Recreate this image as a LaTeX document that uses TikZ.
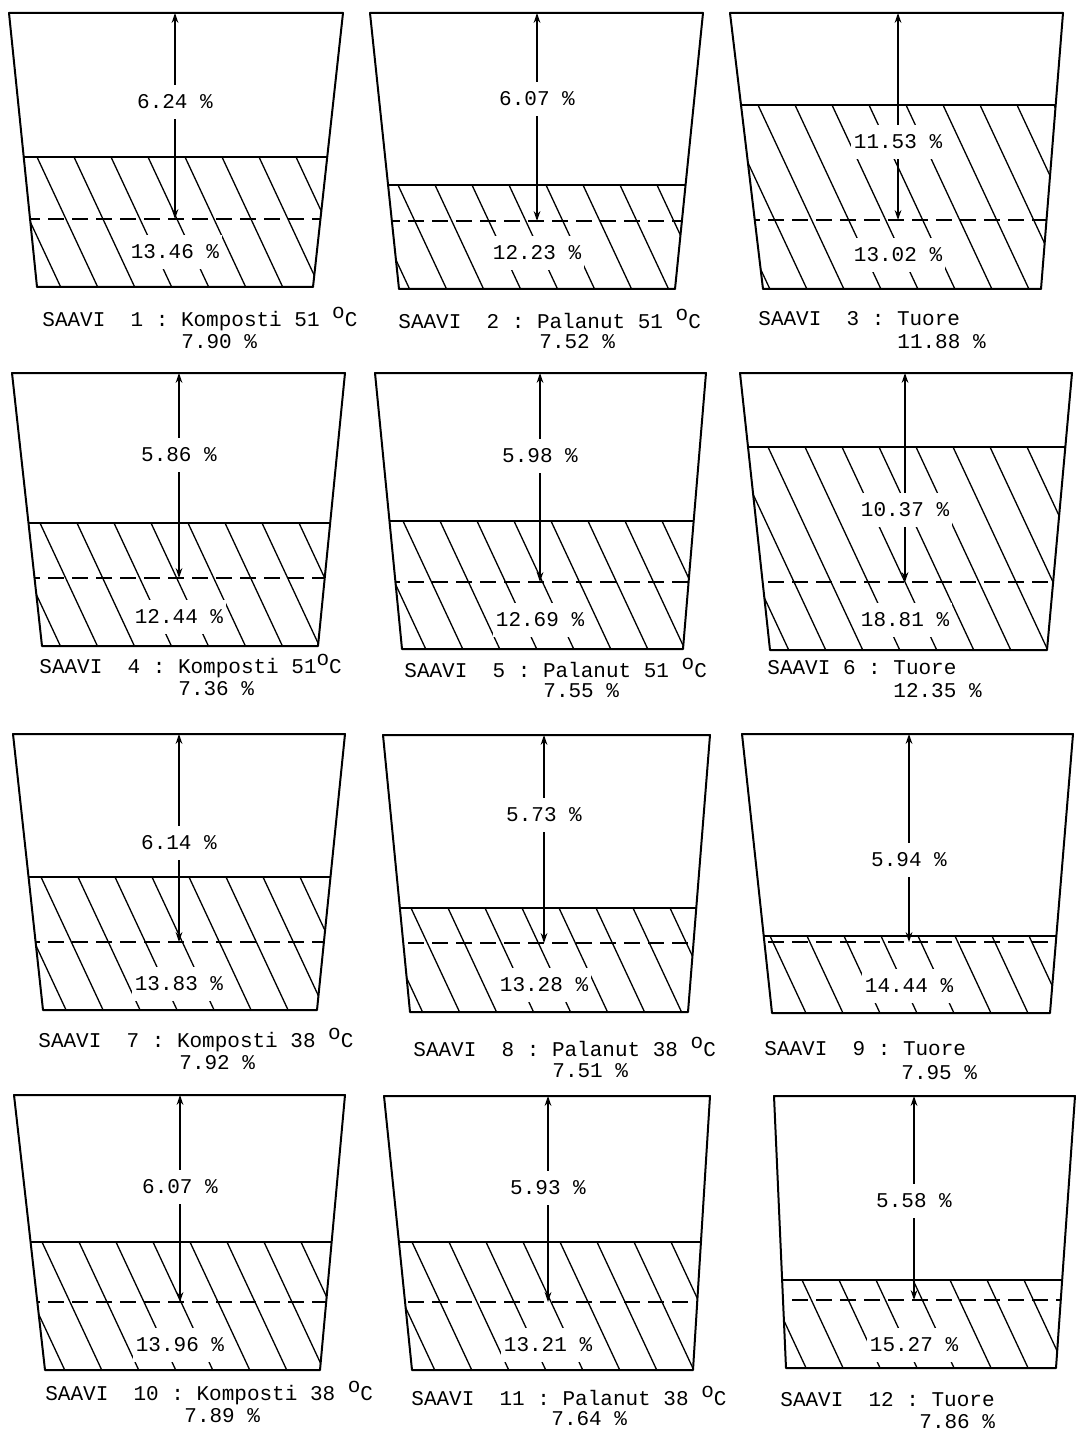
\documentclass[tikz,border=0pt]{standalone}
\usepackage{fontspec}
\setmonofont{Liberation Mono}
\usetikzlibrary{arrows.meta}

% one vessel: top left/right x, top y, bottom left/right x, bottom y, fill level, dashed level
\newcommand{\drawvessel}[8]{%
  \begin{scope}
    \clip (#1,#3) -- (#2,#3) -- (#5,#6) -- (#4,#6) -- cycle;
    \draw[wall] (0,#7) -- (1075,#7);
    \draw[dashline] (0,#8) -- (1075,#8);
    \clip (0,#7) rectangle (1075,#6);
    \foreach \h in {-120,-83,...,340}
      \draw[hatchline] (#1+\h,#7) -- ++(140,300);
  \end{scope}
  \draw[wall] (#1,#3) -- (#2,#3) -- (#5,#6) -- (#4,#6) -- cycle;
}
\newcommand{\degc}{\raisebox{0.75ex}{o}C}

\begin{document}
\begin{tikzpicture}[x=0.5pt, y=-0.5pt,
		wall/.style={line width=1pt, line join=round},
		hatchline/.style={line width=0.65pt},
		dashline/.style={line width=0.9pt, dash pattern=on 8pt off 4pt},
		level/.style={{Stealth[length=5pt,width=3.4pt]}-{Stealth[length=5pt,width=3.4pt]},
			line width=0.7pt},
		pct/.style={font=\ttfamily\fontsize{10.5}{12}\selectfont, fill=white,
			inner xsep=1.5pt, inner ysep=5pt},
		saavi/.style={font=\ttfamily\fontsize{10.5}{12}\selectfont, anchor=west,
			inner sep=0pt}]
		
		\useasboundingbox (0,0) rectangle (1075,1433);
		
		% --- Row 1 ---
		% SAAVI 1
		\drawvessel{9}{343}{13}{37}{313}{287}{157}{219}
		\coordinate (top1) at (175,13);
		\coordinate (dash1) at (175,219);
		\draw[level] (top1) -- (dash1);
		\node[pct] (upper1) at (175,102) {6.24 \%};
		\node[pct] (lower1) at (175,252) {13.46 \%};
		\node[saavi] (name1) at (42,319) {SAAVI\ \ 1 : Komposti 51 \degc};
		\node[saavi] (dry1) at (181,342) {7.90 \%};
		
		% SAAVI 2
		\drawvessel{370}{703}{13}{399}{675}{289}{185}{221}
		\coordinate (top2) at (537,13);
		\coordinate (dash2) at (537,221);
		\draw[level] (top2) -- (dash2);
		\node[pct] (upper2) at (537,99) {6.07 \%};
		\node[pct] (lower2) at (537,253) {12.23 \%};
		\node[saavi] (name2) at (398,319) {SAAVI\ \ 2 : Palanut 51 \degc};
		\node[saavi] (dry2) at (539,342) {7.52 \%};
		
		% SAAVI 3
		\drawvessel{730}{1063}{13}{763}{1041}{289}{105}{220}
		\coordinate (top3) at (898,13);
		\coordinate (dash3) at (898,220);
		\draw[level] (top3) -- (dash3);
		\node[pct] (upper3) at (898,142) {11.53 \%};
		\node[pct] (lower3) at (898,255) {13.02 \%};
		\node[saavi] (name3) at (758,319) {SAAVI\ \ 3 : Tuore};
		\node[saavi] (dry3) at (897,342) {11.88 \%};
		
		% --- Row 2 ---
		% SAAVI 4
		\drawvessel{12}{345}{373}{42}{318}{646}{523}{578}
		\coordinate (top4) at (179,373);
		\coordinate (dash4) at (179,578);
		\draw[level] (top4) -- (dash4);
		\node[pct] (upper4) at (179,455) {5.86 \%};
		\node[pct] (lower4) at (179,617) {12.44 \%};
		\node[saavi] (name4) at (39,666) {SAAVI\ \ 4 : Komposti 51\degc};
		\node[saavi] (dry4) at (178,689) {7.36 \%};
		
		% SAAVI 5
		\drawvessel{375}{706}{373}{402}{683}{649}{521}{582}
		\coordinate (top5) at (540,373);
		\coordinate (dash5) at (540,582);
		\draw[level] (top5) -- (dash5);
		\node[pct] (upper5) at (540,456) {5.98 \%};
		\node[pct] (lower5) at (540,620) {12.69 \%};
		\node[saavi] (name5) at (404,668) {SAAVI\ \ 5 : Palanut 51 \degc};
		\node[saavi] (dry5) at (543,691) {7.55 \%};
		
		% SAAVI 6
		\drawvessel{740}{1072}{373}{770}{1047}{650}{447}{582}
		\coordinate (top6) at (905,373);
		\coordinate (dash6) at (905,582);
		\draw[level] (top6) -- (dash6);
		\node[pct] (upper6) at (905,510) {10.37 \%};
		\node[pct] (lower6) at (905,620) {18.81 \%};
		\node[saavi] (name6) at (767,668) {SAAVI 6 : Tuore};
		\node[saavi] (dry6) at (893,691) {12.35 \%};
		
		% --- Row 3 ---
		% SAAVI 7
		\drawvessel{13}{345}{734}{43}{317}{1010}{877}{942}
		\coordinate (top7) at (179,734);
		\coordinate (dash7) at (179,942);
		\draw[level] (top7) -- (dash7);
		\node[pct] (upper7) at (179,843) {6.14 \%};
		\node[pct] (lower7) at (179,984) {13.83 \%};
		\node[saavi] (name7) at (38,1040) {SAAVI\ \ 7 : Komposti 38 \degc};
		\node[saavi] (dry7) at (179,1063) {7.92 \%};
		
		% SAAVI 8
		\drawvessel{383}{710}{735}{410}{688}{1012}{908}{943}
		\coordinate (top8) at (544,735);
		\coordinate (dash8) at (544,943);
		\draw[level] (top8) -- (dash8);
		\node[pct] (upper8) at (544,815) {5.73 \%};
		\node[pct] (lower8) at (544,985) {13.28 \%};
		\node[saavi] (name8) at (413,1047) {SAAVI\ \ 8 : Palanut 38 \degc};
		\node[saavi] (dry8) at (552,1071) {7.51 \%};
		
		% SAAVI 9
		\drawvessel{742}{1073}{734}{772}{1050}{1013}{936}{942}
		\coordinate (top9) at (909,734);
		\coordinate (dash9) at (909,942);
		\draw[level] (top9) -- (dash9);
		\node[pct] (upper9) at (909,860) {5.94 \%};
		\node[pct] (lower9) at (909,986) {14.44 \%};
		\node[saavi] (name9) at (764,1049) {SAAVI\ \ 9 : Tuore};
		\node[saavi] (dry9) at (901,1073) {7.95 \%};
		
		% --- Row 4 ---
		% SAAVI 10
		\drawvessel{14}{345}{1095}{45}{320}{1370}{1242}{1302}
		\coordinate (top10) at (180,1095);
		\coordinate (dash10) at (180,1302);
		\draw[level] (top10) -- (dash10);
		\node[pct] (upper10) at (180,1187) {6.07 \%};
		\node[pct] (lower10) at (180,1345) {13.96 \%};
		\node[saavi] (name10) at (45,1393) {SAAVI\ \ 10 : Komposti 38 \degc};
		\node[saavi] (dry10) at (184,1416) {7.89 \%};
		
		% SAAVI 11
		\drawvessel{384}{710}{1096}{412}{693}{1370}{1242}{1302}
		\coordinate (top11) at (548,1096);
		\coordinate (dash11) at (548,1302);
		\draw[level] (top11) -- (dash11);
		\node[pct] (upper11) at (548,1188) {5.93 \%};
		\node[pct] (lower11) at (548,1345) {13.21 \%};
		\node[saavi] (name11) at (411,1396) {SAAVI\ \ 11 : Palanut 38 \degc};
		\node[saavi] (dry11) at (551,1419) {7.64 \%};
		
		% SAAVI 12
		\drawvessel{774}{1075}{1096}{786}{1056}{1368}{1280}{1300}
		\coordinate (top12) at (914,1096);
		\coordinate (dash12) at (914,1300);
		\draw[level] (top12) -- (dash12);
		\node[pct] (upper12) at (914,1201) {5.58 \%};
		\node[pct] (lower12) at (914,1345) {15.27 \%};
		\node[saavi] (name12) at (780,1400) {SAAVI\ \ 12 : Tuore};
		\node[saavi] (dry12) at (919,1422) {7.86 \%};
		
	\end{tikzpicture}
\end{document}
